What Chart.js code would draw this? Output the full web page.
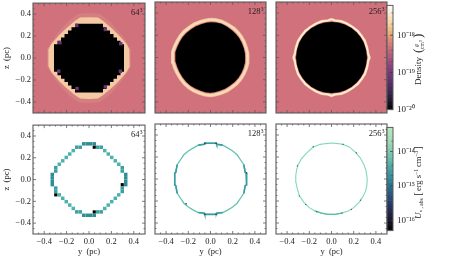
<!DOCTYPE html>
<html>
<head>
<meta charset="UTF-8">
<title>Density and U panels</title>
<script src="https://cdn.jsdelivr.net/npm/chart.js"></script>
<style>
body { margin: 0; background: white; overflow: hidden; }
#wrap { position: relative; width: 449px; height: 259px; overflow: hidden; }
canvas { position: absolute; }
</style>
</head>
<body>
<div id="wrap"></div>
<script>
// axis ticks
const axisTicks = [-0.4, -0.2, 0.0, 0.2, 0.4];
const axisMinor = [-0.45, -0.35, -0.3, -0.25, -0.15, -0.1, -0.05, 0.05, 0.1, 0.15, 0.25, 0.3, 0.35, 0.45];
const resolutionLabels = ['64', '128', '256'];

// density colourbar, log10 band edges and colours
const densityEdges = [-20.0, -19.9, -19.8, -19.7, -19.6, -19.5, -19.4, -19.3, -19.2, -19.1, -19.0, -18.9, -18.8, -18.7, -18.6, -18.5, -18.4, -18.3, -18.2, -18.1, -18.0, -17.9, -17.8, -17.7, -17.6, -17.5, -17.4, -17.3, -17.2];
const densityColors = ['#0c0910', '#17111f', '#231a30', '#2f2040', '#3b264e', '#47295a', '#532d64', '#5e316c', '#6a3572', '#743877', '#7f3c7a', '#8b427c', '#974a7c', '#a4527c', '#b15c7c', '#bd667b', '#c9707a', '#d47c78', '#dc8a76', '#e29b78', '#e8ad80', '#edbd8b', '#f1cb9a', '#f4d7ab', '#f7e1bd', '#fae9cf', '#fcf2e2', '#fff9f2'];
const densityTicks = [-20, -19, -18];
const densityMinor = [-19.7, -19.4, -18.7, -18.4, -17.7, -17.4];

// U colourbar
const uEdges = [-16.3, -16.175, -16.05, -15.925, -15.8, -15.675, -15.55, -15.425, -15.3, -15.175, -15.05, -14.925, -14.8, -14.675, -14.55, -14.425, -14.3, -14.175, -14.05, -13.925, -13.8, -13.675, -13.55, -13.425, -13.3];
const uColors = ['#0d0a12', '#15121f', '#1c1a2f', '#21223f', '#242b4e', '#25355e', '#26406c', '#274c78', '#285a82', '#2a688a', '#2c7591', '#318296', '#388f9b', '#419ba0', '#4ca6a4', '#59b1a8', '#67bbab', '#75c4ae', '#83ccb1', '#90d3b3', '#9bd9b6', '#a5deb9', '#aee2bc', '#b6e6c0'];
const uTicks = [-16, -15, -14];
const uMinor = [-15.7, -15.4, -14.7, -14.4, -13.7];

// 64 density
const halo64 = [[0, 0.41], [0.1, 0.40], [0.2, 0.32], [0.3, 0.2], [0.375, 0.08], [0.375, -0.08], [0.3, -0.2], [0.2, -0.32], [0.1, -0.40], [0, -0.41], [-0.1, -0.40], [-0.2, -0.32], [-0.3, -0.2], [-0.375, -0.08], [-0.375, 0.08], [-0.3, 0.2], [-0.2, 0.32], [-0.1, 0.40]];
const tan64 = [[0, 0.372], [0.08, 0.368], [0.13, 0.335], [0.21, 0.265], [0.265, 0.21], [0.335, 0.13], [0.36, 0.08], [0.365, 0], [0.36, -0.08], [0.335, -0.13], [0.265, -0.21], [0.21, -0.265], [0.13, -0.335], [0.08, -0.368], [0, -0.372], [-0.08, -0.368], [-0.13, -0.335], [-0.21, -0.265], [-0.265, -0.21], [-0.335, -0.13], [-0.36, -0.08], [-0.365, 0], [-0.36, 0.08], [-0.335, 0.13], [-0.265, 0.21], [-0.21, 0.265], [-0.13, 0.335], [-0.08, 0.368]];
const disc64 = [
  [0.125, 0.3125], [0.125, 0.2813], [0.1563, 0.2813], [0.1563, 0.25], [0.1875, 0.25], [0.1875, 0.2188], [0.2188, 0.2188], [0.2188, 0.1875], [0.25, 0.1875], [0.25, 0.1563], [0.2813, 0.1563], [0.2813, 0.125], [0.3125, 0.125],
  [0.3125, -0.125], [0.2813, -0.125], [0.2813, -0.1563], [0.25, -0.1563], [0.25, -0.1875], [0.2188, -0.1875], [0.2188, -0.2188], [0.1875, -0.2188], [0.1875, -0.25], [0.1563, -0.25], [0.1563, -0.2813], [0.125, -0.2813], [0.125, -0.3125],
  [-0.125, -0.3125], [-0.125, -0.2813], [-0.1563, -0.2813], [-0.1563, -0.25], [-0.1875, -0.25], [-0.1875, -0.2188], [-0.2188, -0.2188], [-0.2188, -0.1875], [-0.25, -0.1875], [-0.25, -0.1563], [-0.2813, -0.1563], [-0.2813, -0.125], [-0.3125, -0.125],
  [-0.3125, 0.125], [-0.2813, 0.125], [-0.2813, 0.1563], [-0.25, 0.1563], [-0.25, 0.1875], [-0.2188, 0.1875], [-0.2188, 0.2188], [-0.1875, 0.2188], [-0.1875, 0.25], [-0.1563, 0.25], [-0.1563, 0.2813], [-0.125, 0.2813], [-0.125, 0.3125]];
const purple64 = [[-0.11, 0.297], [0.146, 0.26], [-0.26, 0.14], [0.283, 0.13], [-0.27, -0.12], [0.28, -0.12], [-0.107, -0.277], [0.146, -0.262]];

// 128 density
const ring128 = [[0, 0.342], [0.05, 0.338], [0.1, 0.325], [0.16, 0.295], [0.21, 0.262], [0.245, 0.228], [0.275, 0.19], [0.3, 0.145], [0.32, 0.09], [0.333, 0.04], [0.335, 0], [0.333, -0.05], [0.32, -0.1], [0.298, -0.15], [0.27, -0.195], [0.235, -0.235], [0.19, -0.27], [0.145, -0.3], [0.09, -0.322], [0.04, -0.335], [0, -0.342], [-0.05, -0.335], [-0.1, -0.32], [-0.15, -0.298], [-0.195, -0.27], [-0.235, -0.235], [-0.27, -0.19], [-0.3, -0.14], [-0.322, -0.09], [-0.338, -0.04], [-0.342, 0], [-0.338, 0.05], [-0.322, 0.1], [-0.298, 0.15], [-0.27, 0.195], [-0.235, 0.235], [-0.19, 0.27], [-0.145, 0.3], [-0.09, 0.322], [-0.04, 0.335]];
const disc128 = [[0, 0.318], [0.05, 0.315], [0.1, 0.303], [0.15, 0.276], [0.195, 0.244], [0.228, 0.212], [0.256, 0.177], [0.28, 0.135], [0.3, 0.084], [0.31, 0.037], [0.312, 0], [0.31, -0.047], [0.298, -0.093], [0.278, -0.14], [0.252, -0.182], [0.219, -0.219], [0.177, -0.252], [0.135, -0.28], [0.084, -0.3], [0.037, -0.312], [0, -0.318], [-0.047, -0.312], [-0.093, -0.298], [-0.14, -0.278], [-0.182, -0.252], [-0.219, -0.219], [-0.252, -0.177], [-0.28, -0.13], [-0.3, -0.084], [-0.315, -0.037], [-0.318, 0], [-0.315, 0.047], [-0.3, 0.093], [-0.278, 0.14], [-0.252, 0.182], [-0.219, 0.219], [-0.177, 0.252], [-0.135, 0.28], [-0.084, 0.3], [-0.037, 0.312]];

// 256 density
const ring256 = [[0, 0.345], [0.03, 0.334], [0.09, 0.326], [0.14, 0.305], [0.19, 0.275], [0.235, 0.24], [0.27, 0.195], [0.3, 0.15], [0.32, 0.09], [0.33, 0.035], [0.342, 0], [0.33, -0.035], [0.32, -0.09], [0.3, -0.15], [0.27, -0.195], [0.235, -0.24], [0.19, -0.275], [0.14, -0.305], [0.09, -0.326], [0.03, -0.334], [0, -0.345], [-0.03, -0.334], [-0.09, -0.326], [-0.14, -0.305], [-0.19, -0.275], [-0.235, -0.24], [-0.27, -0.195], [-0.3, -0.15], [-0.32, -0.09], [-0.33, -0.035], [-0.342, 0], [-0.33, 0.035], [-0.32, 0.09], [-0.3, 0.15], [-0.27, 0.195], [-0.235, 0.24], [-0.19, 0.275], [-0.14, 0.305], [-0.09, 0.326], [-0.03, 0.334]];
const disc256 = [[0, 0.32], [0.06, 0.316], [0.12, 0.298], [0.18, 0.265], [0.225, 0.228], [0.262, 0.185], [0.292, 0.13], [0.312, 0.065], [0.32, 0], [0.312, -0.065], [0.292, -0.13], [0.262, -0.185], [0.225, -0.228], [0.18, -0.265], [0.12, -0.298], [0.06, -0.316], [0, -0.32], [-0.06, -0.316], [-0.12, -0.298], [-0.18, -0.265], [-0.225, -0.228], [-0.262, -0.185], [-0.292, -0.13], [-0.312, -0.065], [-0.32, 0], [-0.312, 0.065], [-0.292, 0.13], [-0.262, 0.185], [-0.225, 0.228], [-0.18, 0.265], [-0.12, 0.298], [-0.06, 0.316]];

// 64 energy cells
const cellsDark64 = [[-0.0469, 0.3281], [-0.0156, 0.3281], [0.0156, 0.3281], [0.0469, 0.3281], [-0.0469, -0.3281], [-0.0156, -0.3281], [0.0156, -0.3281], [0.0469, -0.3281], [0.3281, -0.0469], [0.3281, -0.0156], [0.3281, 0.0156], [0.3281, 0.0469], [-0.3281, -0.0469], [-0.3281, -0.0156], [-0.3281, 0.0156], [-0.3281, 0.0469]];
const cellsMid64 = [[0.0781, 0.2969], [0.1094, 0.2969], [-0.0781, 0.2969], [-0.1094, 0.2969], [0.0781, -0.2969], [0.1094, -0.2969], [-0.0781, -0.2969], [-0.1094, -0.2969], [0.2969, 0.0781], [0.2969, 0.1094], [0.2969, -0.0781], [0.2969, -0.1094], [-0.2969, 0.0781], [-0.2969, 0.1094], [-0.2969, -0.0781], [-0.2969, -0.1094]];
const cellsDiag64 = [[0.1406, 0.2656], [0.1719, 0.2344], [0.2031, 0.2031], [0.2344, 0.1719], [0.2656, 0.1406], [-0.1406, 0.2656], [-0.1719, 0.2344], [-0.2031, 0.2031], [-0.2344, 0.1719], [-0.2656, 0.1406], [0.1406, -0.2656], [0.1719, -0.2344], [0.2031, -0.2031], [0.2344, -0.1719], [0.2656, -0.1406], [-0.1406, -0.2656], [-0.1719, -0.2344], [-0.2031, -0.2031], [-0.2344, -0.1719], [-0.2656, -0.1406]];
const cellsBlack64 = [[0.0469, 0.2969], [0.2969, -0.0469], [-0.2969, -0.1406], [0.0469, -0.2969]];

// 128 energy
const shell128 = [[0, 0.325], [0.052, 0.325], [0.055, 0.316], [0.11, 0.308], [0.15, 0.285], [0.2, 0.255], [0.24, 0.22], [0.27, 0.175], [0.3, 0.13], [0.313, 0.06], [0.322, 0.055], [0.325, -0.055], [0.313, -0.06], [0.3, -0.13], [0.27, -0.175], [0.24, -0.22], [0.2, -0.255], [0.15, -0.285], [0.11, -0.305], [0.055, -0.312], [0.052, -0.322], [-0.052, -0.322], [-0.055, -0.312], [-0.11, -0.305], [-0.15, -0.285], [-0.2, -0.255], [-0.24, -0.22], [-0.27, -0.175], [-0.3, -0.13], [-0.313, -0.06], [-0.322, -0.055], [-0.322, 0.055], [-0.313, 0.06], [-0.3, 0.13], [-0.27, 0.175], [-0.24, 0.22], [-0.2, 0.255], [-0.15, 0.285], [-0.11, 0.308], [-0.055, 0.316], [-0.052, 0.325]];
const strong128Top = [[-0.11, 0.308], [-0.055, 0.316], [-0.052, 0.325], [0.052, 0.325], [0.055, 0.316], [0.11, 0.308]];
const strong128Bottom = [[-0.11, -0.305], [-0.055, -0.312], [-0.052, -0.322], [0.052, -0.322], [0.055, -0.312], [0.11, -0.305]];
const strong128Right = [[0.3, 0.13], [0.313, 0.06], [0.322, 0.055], [0.325, -0.055], [0.313, -0.06], [0.3, -0.13]];
const strong128Left = [[-0.3, 0.13], [-0.313, 0.06], [-0.322, 0.055], [-0.322, -0.055], [-0.313, -0.06], [-0.3, -0.13]];
const specks128 = [[-0.22, -0.225], [0.325, 0.055], [-0.05, 0.325], [0.05, 0.325], [-0.05, -0.322], [0.05, -0.322]];

// 256 energy
const shell256 = [[0, 0.327], [0.06, 0.322], [0.1, 0.315], [0.16, 0.292], [0.22, 0.24], [0.26, 0.19], [0.29, 0.135], [0.31, 0.08], [0.318, 0.03], [0.322, 0], [0.318, -0.06], [0.305, -0.115], [0.28, -0.165], [0.25, -0.21], [0.2, -0.26], [0.15, -0.29], [0.09, -0.31], [0.03, -0.322], [-0.03, -0.322], [-0.09, -0.31], [-0.15, -0.29], [-0.2, -0.26], [-0.25, -0.21], [-0.29, -0.15], [-0.31, -0.08], [-0.32, -0.03], [-0.322, 0.03], [-0.315, 0.08], [-0.3, 0.13], [-0.27, 0.185], [-0.225, 0.235], [-0.165, 0.29], [-0.1, 0.315], [-0.05, 0.322]];
const strong256Bottom = [[-0.15, -0.29], [-0.09, -0.31], [-0.03, -0.322], [0.03, -0.322], [0.09, -0.31]];
const specks256 = [[-0.164, 0.292], [0.223, 0.238], [-0.289, -0.155], [-0.232, -0.232], [-0.134, -0.298], [0.095, -0.31], [0.179, -0.277], [0.262, -0.193], [-0.307, 0.119], [0.104, 0.315]];

Chart.defaults.font.family = "'Liberation Serif', serif";
Chart.defaults.font.size = 8.5;
Chart.defaults.color = '#222';

const wrap = document.getElementById('wrap');
const PAD = 6;
const frameColor = '#5a5a5a';

function toPts(arr) { return arr.map(p => ({x: p[0], y: p[1]})); }
function closed(arr) { return toPts(arr.concat([arr[0]])); }

function filled(arr, color) {
  return {data: closed(arr), showLine: true, fill: 'shape', backgroundColor: color, borderColor: color, borderWidth: 0, pointRadius: 0, tension: 0};
}
function stroke(arr, color, width, close) {
  return {data: close ? closed(arr) : toPts(arr), showLine: true, fill: false, borderColor: color, borderWidth: width, pointRadius: 0, tension: 0, borderJoinStyle: 'miter'};
}
function cells(arr, color, radius) {
  return {data: toPts(arr), showLine: false, pointStyle: 'rect', pointRadius: radius, backgroundColor: color, borderWidth: 0};
}

function addCanvas(left, top, w, h) {
  const c = document.createElement('canvas');
  c.width = w; c.height = h;
  c.style.left = left + 'px'; c.style.top = top + 'px';
  c.style.width = w + 'px'; c.style.height = h + 'px';
  wrap.appendChild(c);
  return c;
}

function inTicks(ctx, xs, ys, area, len) {
  ctx.beginPath();
  xs.forEach(x => { ctx.moveTo(x, area.top); ctx.lineTo(x, area.top + len); ctx.moveTo(x, area.bottom); ctx.lineTo(x, area.bottom - len); });
  ys.forEach(y => { ctx.moveTo(area.left, y); ctx.lineTo(area.left + len, y); ctx.moveTo(area.right, y); ctx.lineTo(area.right - len, y); });
  ctx.stroke();
}

function panel(cfg) {
  const M = cfg.yLabels ? cfg.left : 2;
  const H = cfg.xLabels ? 259 - (cfg.top + cfg.h) : 8;
  const canvas = addCanvas(cfg.left - M, cfg.top - PAD, M + cfg.w + PAD, PAD + cfg.h + H);
  const framePlugin = {
    id: 'frame',
    beforeDatasetsDraw(chart) {
      if (!cfg.bg) return;
      const a = chart.chartArea;
      chart.ctx.fillStyle = cfg.bg;
      chart.ctx.fillRect(a.left, a.top, a.width, a.height);
    },
    afterDatasetsDraw(chart) {
      const ctx = chart.ctx, a = chart.chartArea, sx = chart.scales.x, sy = chart.scales.y;
      ctx.save();
      ctx.strokeStyle = frameColor;
      ctx.lineWidth = 0.8;
      inTicks(ctx, axisTicks.map(v => sx.getPixelForValue(v)), axisTicks.map(v => sy.getPixelForValue(v)), a, 3);
      inTicks(ctx, axisMinor.map(v => sx.getPixelForValue(v)), axisMinor.map(v => sy.getPixelForValue(v)), a, 1.5);
      ctx.lineWidth = 1.1;
      ctx.strokeRect(a.left, a.top, a.width, a.height);
      // resolution tag
      ctx.fillStyle = '#222';
      ctx.textAlign = 'right';
      ctx.textBaseline = 'alphabetic';
      ctx.font = "5.5px 'Liberation Serif', serif";
      ctx.fillText('3', a.right - 2.5, a.top + 8.5);
      ctx.font = "8.5px 'Liberation Serif', serif";
      ctx.fillText(cfg.tag, a.right - 5.5, a.top + 12);
      ctx.restore();
    }
  };
  const tickText = v => v.toFixed(1).replace('-', '\u2212');
  new Chart(canvas, {
    type: 'scatter',
    data: {datasets: cfg.layers.slice().reverse()},
    plugins: [framePlugin],
    options: {
      responsive: false,
      animation: false,
      layout: {autoPadding: false, padding: {top: PAD, right: PAD, left: 0, bottom: 0}},
      plugins: {legend: {display: false}, tooltip: {enabled: false}},
      scales: {
        x: {
          type: 'linear', min: -0.5, max: 0.5,
          grid: {display: false, drawTicks: false}, border: {display: false},
          afterBuildTicks(s) { s.ticks = axisTicks.map(v => ({value: v})); },
          afterFit(s) { s.height = H; },
          ticks: {display: !!cfg.xLabels, padding: 3, maxRotation: 0, autoSkip: false, callback: tickText},
          title: {display: !!cfg.xLabels, text: 'y  (pc)', padding: {top: 0, bottom: 2}}
        },
        y: {
          type: 'linear', min: -0.5, max: 0.5,
          grid: {display: false, drawTicks: false}, border: {display: false},
          afterBuildTicks(s) { s.ticks = axisTicks.map(v => ({value: v})); },
          afterFit(s) { s.width = M; },
          ticks: {display: !!cfg.yLabels, padding: 2, autoSkip: false, callback: tickText},
          title: {display: !!cfg.yLabels, text: 'z  (pc)', padding: {top: 2, bottom: 0}}
        }
      }
    }
  });
}

function sup(v) {
  const map = {'-': '\u207b', '0': '\u2070', '1': '\u00b9', '2': '\u00b2', '3': '\u00b3', '4': '\u2074', '5': '\u2075', '6': '\u2076', '7': '\u2077', '8': '\u2078', '9': '\u2079'};
  return '10' + String(v).split('').map(ch => map[ch]).join('');
}

function richText(ctx, x, y, parts) {
  // draws bottom to top, baseline along x
  ctx.save();
  ctx.translate(x, y);
  ctx.rotate(-Math.PI / 2);
  ctx.fillStyle = '#222';
  ctx.textAlign = 'left';
  ctx.textBaseline = 'alphabetic';
  let pos = 0;
  parts.forEach(p => {
    ctx.font = (p.style || '') + ' ' + (p.size || 8.5) + "px 'Liberation Serif', serif";
    ctx.fillText(p.t, pos, p.dy || 0);
    pos += ctx.measureText(p.t).width + (p.gap || 0);
  });
  ctx.restore();
}

function colorbar(cfg) {
  const W = 6, W2 = 56;
  const canvas = addCanvas(386, cfg.top - PAD, 1 + W + W2, PAD + cfg.h + PAD);
  const barPlugin = {
    id: 'barFrame',
    afterDatasetsDraw(chart) {
      const ctx = chart.ctx, a = chart.chartArea, sy = chart.scales.y;
      ctx.save();
      ctx.strokeStyle = '#333';
      ctx.lineWidth = 0.7;
      ctx.beginPath();
      cfg.ticks.forEach(v => { const y = sy.getPixelForValue(v); ctx.moveTo(a.right - 3, y); ctx.lineTo(a.right, y); });
      cfg.minor.forEach(v => { const y = sy.getPixelForValue(v); ctx.moveTo(a.right - 1.5, y); ctx.lineTo(a.right, y); });
      ctx.stroke();
      ctx.strokeStyle = frameColor;
      ctx.lineWidth = 1;
      ctx.strokeRect(a.left, a.top, a.width, a.height);
      ctx.restore();
      cfg.label(ctx, a);
    }
  };
  new Chart(canvas, {
    type: 'bar',
    data: {
      labels: ['scale'],
      datasets: cfg.colors.map((c, i) => ({data: [[cfg.edges[i], cfg.edges[i + 1]]], backgroundColor: c, borderWidth: 0, grouped: false, barPercentage: 1, categoryPercentage: 1}))
    },
    plugins: [barPlugin],
    options: {
      responsive: false,
      animation: false,
      layout: {autoPadding: false, padding: {top: PAD, left: 1, right: 0, bottom: PAD}},
      plugins: {legend: {display: false}, tooltip: {enabled: false}},
      scales: {
        x: {display: false},
        y: {
          position: 'right', type: 'linear', min: cfg.edges[0], max: cfg.edges[cfg.edges.length - 1],
          grid: {display: false, drawTicks: false}, border: {display: false},
          afterBuildTicks(s) { s.ticks = cfg.ticks.map(v => ({value: v})); },
          afterFit(s) { s.width = W2; },
          ticks: {padding: 4, autoSkip: false, callback: v => sup(v), font: {size: 9}}
        }
      }
    }
  });
}

const rose = '#d1717b';
const L = [33, 155, 276], W = [112, 111, 111];
const T1 = 2, H1 = 111, T2 = 124, H2 = 110;

panel({left: L[0], top: T1, w: W[0], h: H1, yLabels: true, bg: rose, tag: resolutionLabels[0], layers: [
  filled(halo64, '#d67f80'), filled(tan64, '#f4c9a3'), filled(disc64, '#000'), cells(purple64, '#6b3575', 2.4)
]});
panel({left: L[1], top: T1, w: W[1], h: H1, bg: rose, tag: resolutionLabels[1], layers: [
  stroke(ring128, '#f2c6a2', 3.6, true), stroke(ring128, '#f8dcb8', 1.8, true), filled(disc128, '#000')
]});
panel({left: L[2], top: T1, w: W[2], h: H1, bg: rose, tag: resolutionLabels[2], layers: [
  stroke(ring256, '#f3c9a5', 2.6, true), stroke(ring256, '#fdf0d8', 1.4, true), filled(disc256, '#000')
]});
panel({left: L[0], top: T2, w: W[0], h: H2, yLabels: true, xLabels: true, tag: resolutionLabels[0], layers: [
  cells(cellsDiag64, '#4db2ac', 2.45), cells(cellsMid64, '#3aa0a2', 2.45), cells(cellsDark64, '#2e8e96', 2.45), cells(cellsBlack64, '#000', 2.2)
]});
panel({left: L[1], top: T2, w: W[1], h: H2, xLabels: true, tag: resolutionLabels[1], layers: [
  stroke(shell128, '#62c4ae', 1.3, true),
  stroke(strong128Top, '#3a9c9f', 1.6, false), stroke(strong128Bottom, '#3a9c9f', 1.6, false),
  stroke(strong128Right, '#3a9c9f', 1.6, false), stroke(strong128Left, '#3a9c9f', 1.6, false),
  cells(specks128, '#1d3a4a', 0.9)
]});
panel({left: L[2], top: T2, w: W[2], h: H2, xLabels: true, tag: resolutionLabels[2], layers: [
  stroke(shell256, '#85d8b4', 1.1, true), stroke(strong256Bottom, '#55c0a5', 1.3, false),
  cells(specks256, '#1f5f7f', 0.8)
]});

colorbar({top: T1, h: H1, edges: densityEdges, colors: densityColors, ticks: densityTicks, minor: densityMinor,
  label(ctx) {
    const x = 34 + 1, y = 89;
    richText(ctx, x, y, [{t: 'Density', size: 9, gap: 3}]);
    richText(ctx, x + 1, y - 32, [{t: '(', size: 13}]);
    richText(ctx, x - 3.5, y - 38, [{t: 'g', size: 5.5, style: 'italic'}]);
    richText(ctx, x + 2.5, y - 36, [{t: 'cm', size: 5.5}, {t: '3', size: 4, dy: -2}]);
    richText(ctx, x + 1, y - 47, [{t: ')', size: 13}]);
  }
});
colorbar({top: T2, h: H2, edges: uEdges, colors: uColors, ticks: uTicks, minor: uMinor,
  label(ctx) {
    richText(ctx, 35, 101, [
      {t: 'U', size: 9, style: 'italic'},
      {t: '\u22c6, abs', size: 5.5, dy: 2, gap: 3},
      {t: '[', size: 10, gap: 1},
      {t: 'erg s', size: 8.5},
      {t: '\u22121', size: 5.5, dy: -3, gap: 2},
      {t: 'cm', size: 8.5},
      {t: '\u22123', size: 5.5, dy: -3, gap: 1},
      {t: ']', size: 10}
    ]);
  }
});
</script>
</body>
</html>
